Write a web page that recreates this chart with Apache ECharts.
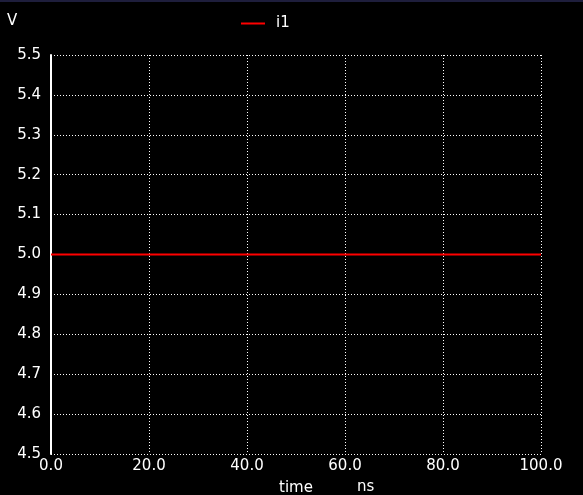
<!DOCTYPE html>
<html>
<head>
<meta charset="utf-8">
<script src="https://cdn.jsdelivr.net/npm/echarts@6/dist/echarts.min.js"></script>
<style>
  html, body { margin: 0; padding: 0; background: #000; }
  #chart { width: 583px; height: 495px; }
</style>
</head>
<body>
<div id="chart"></div>
<script>
// signal i1 over time (ns), volts
const times = [0, 100];
const i1Values = [5.0, 5.0];
const seriesName = 'i1';

const chart = echarts.init(document.getElementById('chart'));
const font = 'DejaVu Sans';
const white = '#ffffff';
const fs = 15;

chart.setOption({
  backgroundColor: '#000000',
  animation: false,
  textStyle: { fontFamily: font },
  legend: {
    left: 236,
    top: 11,
    icon: 'rect',
    itemWidth: 24,
    itemHeight: 2,
    data: [seriesName],
    textStyle: { color: white, fontSize: fs, fontFamily: font, padding: [0, 0, 0, 6] }
  },
  grid: { left: 51, right: 42, top: 55, bottom: 41, outerBoundsMode: 'none' },
  xAxis: {
    type: 'value',
    min: 0,
    max: 100,
    interval: 20,
    name: 'time',
    nameLocation: 'middle',
    nameGap: 27,
    nameTextStyle: { color: white, fontSize: fs, fontFamily: font },
    axisLine: { show: false },
    axisTick: { show: false },
    axisLabel: { color: white, fontSize: fs, fontFamily: font, margin: 5, formatter: (v) => v.toFixed(1) },
    splitLine: { show: true, lineStyle: { color: white, width: 1, type: [1, 2] } }
  },
  yAxis: {
    type: 'value',
    min: 4.5,
    max: 5.5,
    interval: 0.1,
    axisLine: { show: true, lineStyle: { color: white, width: 2 } },
    axisTick: { show: false },
    axisLabel: { color: white, fontSize: fs, fontFamily: font, margin: 10, formatter: (v) => v.toFixed(1) },
    splitLine: { show: true, lineStyle: { color: white, width: 1, type: [1, 2] } }
  },
  graphic: [
    { type: 'rect', left: 0, top: 0, shape: { width: 583, height: 2 }, style: { fill: '#1e1e3c' } },
    { type: 'text', left: 7, top: 14, style: { text: 'V', fill: white, font: fs + 'px DejaVu Sans' } },
    { type: 'text', left: 357, top: 480, style: { text: 'ns', fill: white, font: fs + 'px DejaVu Sans' } }
  ],
  series: [
    {
      name: seriesName,
      type: 'line',
      data: times.map((t, i) => [t, i1Values[i]]),
      showSymbol: false,
      lineStyle: { color: '#ff0000', width: 2 },
      itemStyle: { color: '#ff0000' }
    }
  ]
});
</script>
</body>
</html>
